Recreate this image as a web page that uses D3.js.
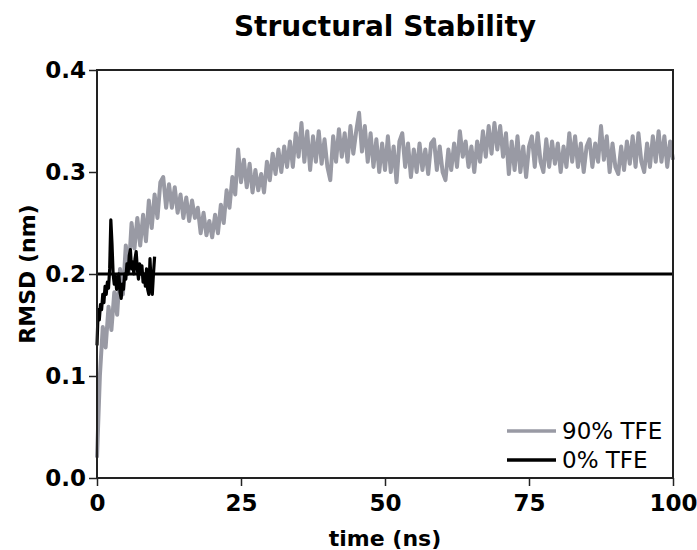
<!DOCTYPE html>
<html>
<head>
<meta charset="utf-8">
<script src="https://cdn.jsdelivr.net/npm/d3@7"></script>
<style>
  html, body { margin: 0; padding: 0; background: #fff; }
  svg { display: block; }
</style>
</head>
<body>
<svg id="chart" width="697" height="550"></svg>
<script>
// RMSD trajectories (nm) over simulation time (ns)
const title = "Structural Stability";
const xLabel = "time (ns)";
const yLabel = "RMSD (nm)";
const xTicks = [0, 25, 50, 75, 100];
const yTicks = [0.0, 0.1, 0.2, 0.3, 0.4];
const seriesNames = ["90% TFE", "0% TFE"];

// 90% TFE, sampled every 0.5 ns from 0 to 100 ns
const tfe90Step = 0.5;
const tfe90 = [
  0.02, 0.1, 0.148, 0.128, 0.168, 0.145, 0.182, 0.16, 0.205, 0.18,
  0.228, 0.202, 0.25, 0.225, 0.255, 0.228, 0.258, 0.232, 0.272, 0.245,
  0.278, 0.255, 0.29, 0.295, 0.265, 0.288, 0.265, 0.285, 0.26, 0.278,
  0.255, 0.275, 0.252, 0.272, 0.255, 0.265, 0.24, 0.26, 0.238, 0.252,
  0.236, 0.258, 0.24, 0.268, 0.25, 0.282, 0.265, 0.295, 0.278, 0.322,
  0.29, 0.312, 0.285, 0.308, 0.28, 0.302, 0.282, 0.298, 0.28, 0.31,
  0.292, 0.318, 0.298, 0.322, 0.3, 0.325, 0.305, 0.33, 0.305, 0.338,
  0.315, 0.348, 0.31, 0.34, 0.302, 0.335, 0.31, 0.34, 0.308, 0.332,
  0.305, 0.292, 0.335, 0.31, 0.342, 0.315, 0.338, 0.31, 0.345, 0.318,
  0.34, 0.358, 0.32, 0.345, 0.31, 0.338, 0.305, 0.332, 0.3, 0.328,
  0.302, 0.335, 0.3, 0.325, 0.29, 0.33, 0.338, 0.305, 0.328, 0.295,
  0.322, 0.3, 0.328, 0.302, 0.322, 0.298, 0.328, 0.332, 0.302, 0.325,
  0.3, 0.292, 0.322, 0.302, 0.328, 0.305, 0.34, 0.315, 0.33, 0.305,
  0.325, 0.3, 0.33, 0.31, 0.34, 0.315, 0.345, 0.318, 0.348, 0.322,
  0.345, 0.315, 0.338, 0.298, 0.33, 0.302, 0.335, 0.3, 0.325, 0.295,
  0.325, 0.335, 0.305, 0.338, 0.31, 0.3, 0.332, 0.305, 0.33, 0.308,
  0.328, 0.3, 0.325, 0.305, 0.338, 0.31, 0.335, 0.305, 0.328, 0.3,
  0.325, 0.332, 0.305, 0.328, 0.31, 0.345, 0.312, 0.335, 0.3, 0.328,
  0.305, 0.298, 0.325, 0.302, 0.33, 0.308, 0.335, 0.305, 0.338, 0.31,
  0.3, 0.328, 0.305, 0.335, 0.31, 0.34, 0.31, 0.335, 0.305, 0.33,
  0.312
];

// 0% TFE, sampled every 0.2 ns from 0 to 10 ns
const tfe0Step = 0.2;
const tfe0 = [
  0.13, 0.165, 0.155, 0.17, 0.165, 0.18, 0.172, 0.188, 0.18, 0.192,
  0.186, 0.205, 0.253, 0.23, 0.2, 0.19, 0.198, 0.185, 0.195, 0.2,
  0.182, 0.176, 0.19, 0.185, 0.2, 0.195, 0.21, 0.2, 0.218, 0.224,
  0.205, 0.212, 0.2, 0.215, 0.222, 0.205, 0.195, 0.21, 0.2, 0.208,
  0.192, 0.2, 0.188, 0.205, 0.185, 0.18, 0.215, 0.19, 0.18, 0.2,
  0.217
];

// horizontal reference level (nm)
const referenceLevel = [0.2];

const colors = { tfe90: "#999aa4", tfe0: "#000000", frame: "#222222" };

const margin = { top: 70, right: 24, bottom: 72, left: 97 };
const width = 697, height = 550;
const innerW = width - margin.left - margin.right;
const innerH = height - margin.top - margin.bottom;

const svg = d3.select("#chart");
const g = svg.append("g").attr("transform", `translate(${margin.left},${margin.top})`);

const x = d3.scaleLinear().domain([0, 100]).range([0, innerW]);
const y = d3.scaleLinear().domain([0, 0.4]).range([innerH, 0]);

const tfe90Pts = tfe90.map((v, i) => [i * tfe90Step, v]);
const tfe0Pts = tfe0.map((v, i) => [i * tfe0Step, v]);

const line = d3.line().x(d => x(d[0])).y(d => y(d[1]));

g.append("path")
  .datum(tfe90Pts)
  .attr("fill", "none")
  .attr("stroke", colors.tfe90)
  .attr("stroke-width", 4)
  .attr("stroke-linejoin", "round")
  .attr("d", line);

g.append("path")
  .datum(tfe0Pts)
  .attr("fill", "none")
  .attr("stroke", colors.tfe0)
  .attr("stroke-width", 3.2)
  .attr("stroke-linejoin", "round")
  .attr("d", line);

g.selectAll(".ref")
  .data(referenceLevel)
  .join("line")
  .attr("class", "ref")
  .attr("x1", x(0)).attr("x2", x(100))
  .attr("y1", d => y(d)).attr("y2", d => y(d))
  .attr("stroke", "#000")
  .attr("stroke-width", 3);

// frame
g.append("rect")
  .attr("x", 0).attr("y", 0)
  .attr("width", innerW).attr("height", innerH)
  .attr("fill", "none")
  .attr("stroke", colors.frame)
  .attr("stroke-width", 2);

// axes
const xAxis = g.append("g")
  .attr("transform", `translate(0,${innerH})`)
  .call(d3.axisBottom(x).tickValues(xTicks).tickSize(8).tickPadding(9).tickFormat(d3.format("d")));
const yAxis = g.append("g")
  .call(d3.axisLeft(y).tickValues(yTicks).tickSize(8).tickPadding(3).tickFormat(d3.format(".1f")));

[xAxis, yAxis].forEach(ax => {
  ax.select(".domain").remove();
  ax.selectAll(".tick line").attr("stroke", colors.frame).attr("stroke-width", 1.5);
  ax.selectAll(".tick text")
    .attr("fill", "#000")
    .style("font-family", "'DejaVu Sans', Verdana, sans-serif")
    .style("font-weight", "bold")
    .style("font-size", "23px");
});

// title and axis labels
svg.append("text")
  .attr("x", margin.left + innerW / 2).attr("y", 36)
  .attr("text-anchor", "middle")
  .style("font-family", "'DejaVu Sans', Verdana, sans-serif")
  .style("font-weight", "bold")
  .style("font-size", "28px")
  .text(title);

svg.append("text")
  .attr("x", margin.left + innerW / 2).attr("y", 546)
  .attr("text-anchor", "middle")
  .style("font-family", "'DejaVu Sans', Verdana, sans-serif")
  .style("font-weight", "bold")
  .style("font-size", "22px")
  .text(xLabel);

svg.append("text")
  .attr("transform", `translate(35,${margin.top + innerH / 2}) rotate(-90)`)
  .attr("text-anchor", "middle")
  .style("font-family", "'DejaVu Sans', Verdana, sans-serif")
  .style("font-weight", "bold")
  .style("font-size", "22px")
  .text(yLabel);

// legend
const legend = svg.append("g").attr("transform", "translate(507,431)");
const legendColors = [colors.tfe90, colors.tfe0];
seriesNames.forEach((name, i) => {
  const row = legend.append("g").attr("transform", `translate(0,${i * 29})`);
  row.append("line")
    .attr("x1", 0).attr("x2", 49).attr("y1", 0).attr("y2", 0)
    .attr("stroke", legendColors[i]).attr("stroke-width", 3.5);
  row.append("text")
    .attr("x", 55).attr("y", 8)
    .style("font-family", "'DejaVu Sans', Verdana, sans-serif")
    .style("font-size", "23px")
    .text(name);
});
</script>
</body>
</html>
